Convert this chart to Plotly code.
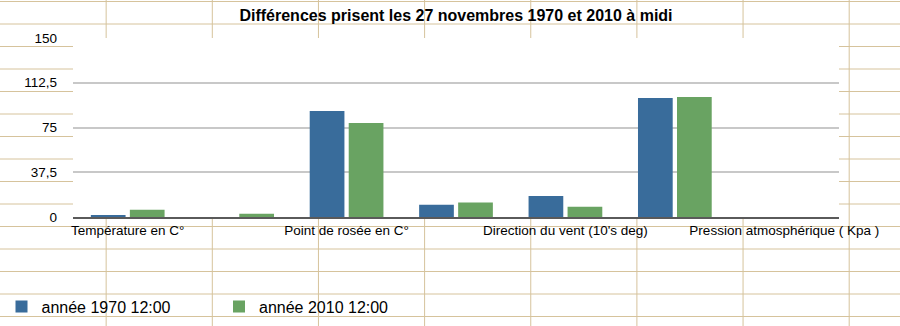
import plotly.graph_objects as go

# ---- data -------------------------------------------------------------
categories = [0, 1, 2, 3, 4, 5, 6]
tick_positions = [0, 2, 4, 6]
tick_labels = [
    "Température en C°",
    "Point de rosée en C°",
    "Direction du vent (10's deg)",
    "Pression atmosphérique ( Kpa )",
]
series_names = ["année 1970 12:00", "année 2010 12:00"]
values_1970 = [1.3, 0, 88.9, 10.2, 17.7, 99.7, 0]
values_2010 = [6.0, 2.7, 78.8, 12.1, 8.5, 100.6, 0]
y_ticks = [0, 37.5, 75, 112.5, 150]

title_text = "Différences prisent les 27 novembres 1970 et 2010 à midi"

# ---- page geometry (pixels) --------------------------------------------
W, H = 900, 326
M_L, M_R, M_T, M_B = 73, 61, 38, 109
PLOT_W = W - M_L - M_R
PLOT_H = H - M_T - M_B

BLUE = "#396c9b"
GREEN = "#69a362"
SHEET_LINE = "#d6c39c"
FONT = "Liberation Sans"


def px_x(px):
    return (px - M_L) / PLOT_W


def px_y(py):
    return (H - M_B - py) / PLOT_H


# spreadsheet cell grid behind the chart
CELL_W, CELL_H, ROW0 = 106.15, 22.5, 1.5
shapes = []
k = 0
while ROW0 + CELL_H * k < H:
    yy = px_y(ROW0 + CELL_H * k)
    shapes.append(dict(type="line", xref="paper", yref="paper", layer="below",
                       x0=px_x(0), x1=px_x(W), y0=yy, y1=yy,
                       line=dict(color=SHEET_LINE, width=1)))
    k += 1
k = 1
while CELL_W * k < W:
    xx = px_x(CELL_W * k)
    shapes.append(dict(type="line", xref="paper", yref="paper", layer="below",
                       x0=xx, x1=xx, y0=px_y(0), y1=px_y(H),
                       line=dict(color=SHEET_LINE, width=1)))
    k += 1
# the chart's plotting area is opaque white over the cells
shapes.append(dict(type="rect", xref="paper", yref="paper", layer="below",
                   x0=0, x1=1, y0=0, y1=1, fillcolor="white",
                   line=dict(width=0)))

fig = go.Figure()
fig.add_trace(go.Bar(x=categories, y=values_1970, name=series_names[0],
                     marker=dict(color=BLUE, line=dict(width=0))))
fig.add_trace(go.Bar(x=categories, y=values_2010, name=series_names[1],
                     marker=dict(color=GREEN, line=dict(width=0))))

fig.update_layout(
    width=W, height=H,
    margin=dict(l=M_L, r=M_R, t=M_T, b=M_B, pad=0, autoexpand=False),
    paper_bgcolor="white", plot_bgcolor="white",
    separators=", ",
    barmode="group", bargap=0.287, bargroupgap=0.11,
    font=dict(family=FONT, size=13.5, color="#000000"),
    title=dict(text=title_text, x=0.5, xref="paper", xanchor="center",
               y=1 - 15 / H, yref="container", yanchor="middle",
               font=dict(family=FONT, size=16, weight="bold", color="#000000")),
    shapes=shapes,
    showlegend=True,
    legend=dict(orientation="h", xref="container", yref="container",
                x=1.5 / W, xanchor="left",
                y=1 - 306.7 / H, yanchor="middle",
                bgcolor="rgba(0,0,0,0)", borderwidth=0,
                font=dict(family=FONT, size=16, color="#000000"),
                entrywidth=172.5, entrywidthmode="pixels",
                traceorder="normal"),
)

fig.update_xaxes(
    range=[-0.5, 6.5], tickmode="array", tickvals=tick_positions,
    ticktext=tick_labels, tickangle=0, ticks="", showgrid=False,
    zeroline=False, showline=True, linecolor="#5a5a5a", linewidth=2,
    automargin=False,
    tickfont=dict(family=FONT, size=13.5, color="#000000"),
)
fig.update_yaxes(
    range=[0, 150], tickmode="array", tickvals=y_ticks, ticks="",
    showgrid=True, gridcolor="#c8c8c8", gridwidth=1.6, zeroline=False,
    showline=False, ticklabelstandoff=15, automargin=False,
    tickfont=dict(family=FONT, size=13.5, color="#000000"),
)

fig.write_html("out.html")
